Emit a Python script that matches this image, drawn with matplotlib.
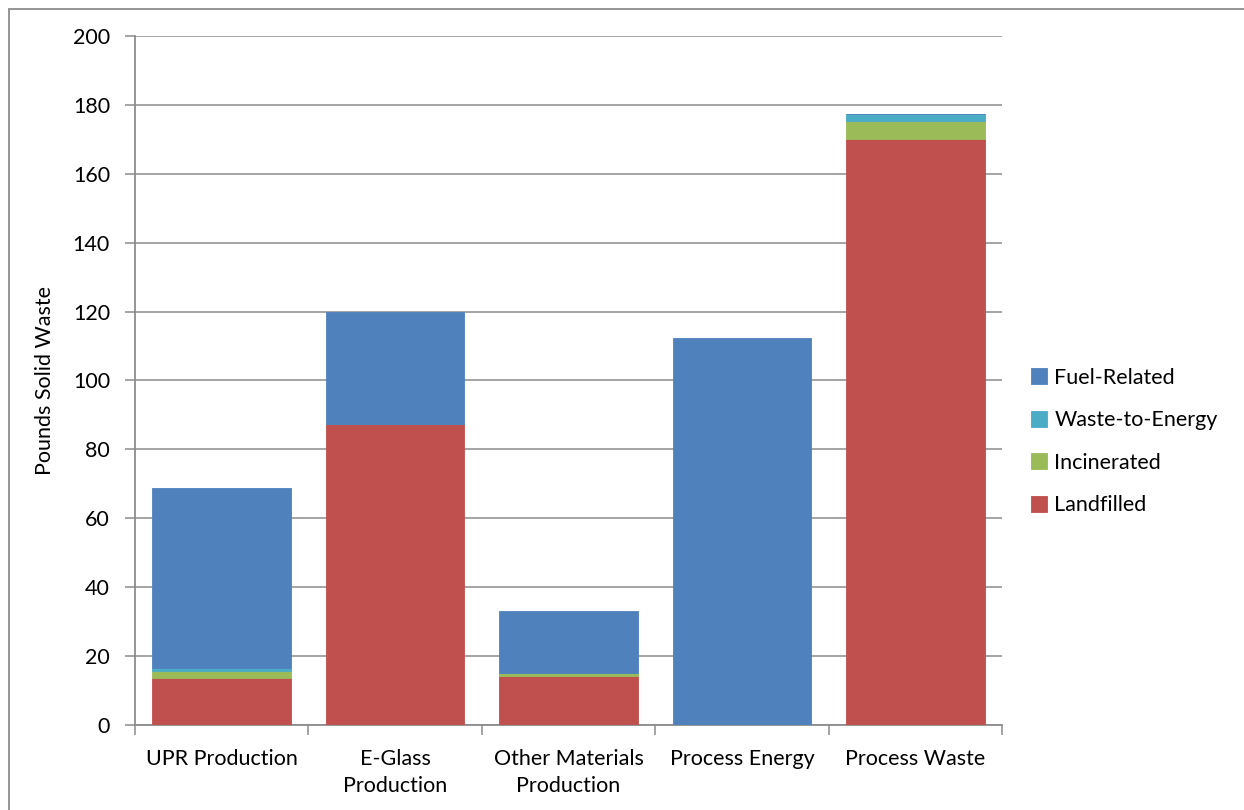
import matplotlib
matplotlib.use("Agg")
import matplotlib.pyplot as plt
from matplotlib.patches import Rectangle
import numpy as np

plt.rcParams['font.family'] = ['Lato', 'DejaVu Sans']

categories = ["UPR Production", "E-Glass\nProduction", "Other Materials\nProduction",
              "Process Energy", "Process Waste"]
landfilled = [13.7, 87.5, 14.3, 0.0, 170.0]
incinerated = [1.9, 0.0, 0.7, 0.0, 5.3]
waste_to_energy = [0.9, 0.0, 0.2, 0.0, 2.1]
fuel_related = [52.3, 32.3, 17.8, 112.3, 0.0]

series = [
    ("Landfilled", landfilled, "#C0504D"),
    ("Incinerated", incinerated, "#9BBB59"),
    ("Waste-to-Energy", waste_to_energy, "#4BACC6"),
    ("Fuel-Related", fuel_related, "#4F81BD"),
]

fig = plt.figure(figsize=(12.44, 8.10), dpi=100)
ax = fig.add_axes([0.1085, 0.1049, 0.697, 0.8507])

x = np.arange(len(categories))
bottom = np.zeros(len(categories))
handles = []
for name, vals, color in series:
    vals = np.array(vals)
    b = ax.bar(x, vals, width=0.8, bottom=bottom, color=color, label=name,
               edgecolor=color, linewidth=0.6, zorder=3)
    handles.append(b)
    bottom += vals

ax.set_xlim(-0.5, len(categories) - 0.5)
ax.set_ylim(0, 200)
ax.set_yticks(np.arange(0, 201, 20))
ax.yaxis.grid(True, color="#8c8c8c", linewidth=1.1, zorder=0)
ax.set_axisbelow(True)

for side in ("top", "right"):
    ax.spines[side].set_visible(False)
for side in ("left", "bottom"):
    ax.spines[side].set_color("#8c8c8c")
    ax.spines[side].set_linewidth(1.3)

ax.tick_params(axis="y", length=7, width=1.1, color="#8c8c8c", labelsize=15.5, pad=11)
ax.set_xticks(x)
ax.set_xticklabels(categories, fontsize=15.5, linespacing=1.45)
ax.tick_params(axis="x", length=0, pad=17)
ax.set_xticks(np.arange(-0.5, len(categories), 1), minor=True)
ax.tick_params(axis="x", which="minor", length=7, width=1.1, color="#8c8c8c")

ax.set_ylabel("Pounds Solid Waste", fontsize=15.5, labelpad=13)

leg = fig.legend(handles=handles[::-1], labels=[s[0] for s in series][::-1],
                 loc="center left", bbox_to_anchor=(0.813, 0.455), frameon=False,
                 fontsize=15.5, handlelength=0.75, handleheight=0.75,
                 handletextpad=0.35, labelspacing=1.05)

# outer chart frame
fig.patches.append(Rectangle((9 / 1244, -0.01), 1.2, 1 - 9 / 810 + 0.01,
                             transform=fig.transFigure, fill=False,
                             edgecolor="#8c8c8c", linewidth=1.3))

fig.savefig("out.png", dpi=100)
